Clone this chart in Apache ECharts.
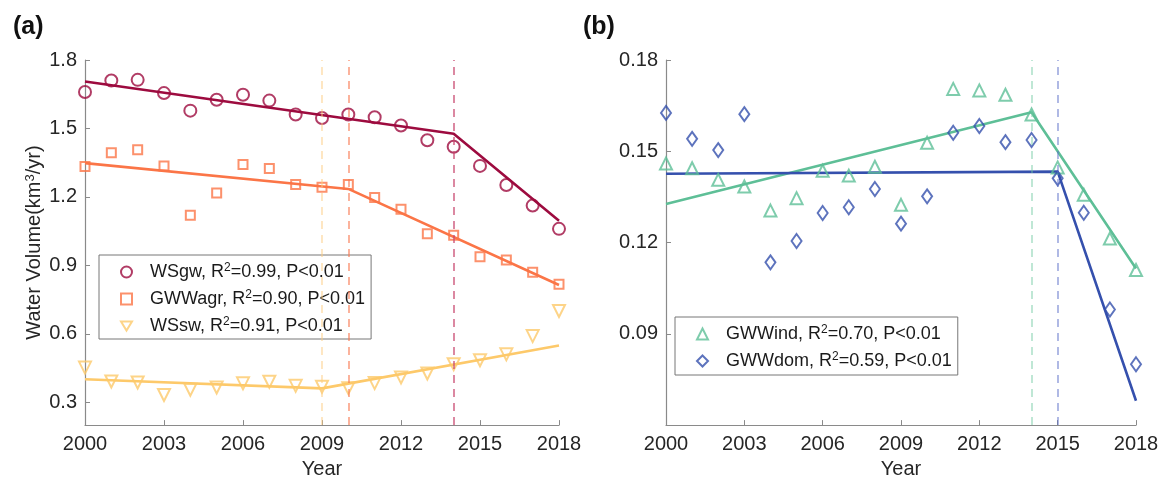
<!DOCTYPE html>
<html>
<head>
<meta charset="utf-8">
<script src="https://cdn.jsdelivr.net/npm/echarts@6/dist/echarts.min.js"></script>
<style>
  html, body { margin: 0; padding: 0; background: #fff; }
  #main { width: 1167px; height: 484px; }
</style>
</head>
<body>
<div id="main"></div>
<script>
// Years on both panels
const years = [2000, 2001, 2002, 2003, 2004, 2005, 2006, 2007, 2008, 2009,
  2010, 2011, 2012, 2013, 2014, 2015, 2016, 2017, 2018];
const xTicks = [2000, 2003, 2006, 2009, 2012, 2015, 2018];

// Panel (a) observations
const wsgw = [1.66, 1.71, 1.713, 1.655, 1.578, 1.626, 1.648, 1.622, 1.561, 1.546,
  1.561, 1.549, 1.513, 1.448, 1.42, 1.336, 1.252, 1.162, 1.06];
const gwwagr = [1.333, 1.394, 1.407, 1.335, 1.12, 1.217, 1.342, 1.325, 1.254, 1.242,
  1.254, 1.197, 1.146, 1.039, 1.032, 0.938, 0.923, 0.87, 0.817];
const wssw = [0.452, 0.391, 0.387, 0.332, 0.355, 0.365, 0.383, 0.39, 0.372, 0.368,
  0.362, 0.384, 0.409, 0.426, 0.467, 0.484, 0.51, 0.59, 0.7];

// Panel (a) piecewise fits (knots)
const wsgwFitX = [2000, 2014, 2018];
const wsgwFitY = [1.706, 1.477, 1.095];
const agrFitX = [2000, 2010, 2018];
const agrFitY = [1.348, 1.235, 0.814];
const swFitX = [2000, 2009, 2018];
const swFitY = [0.401, 0.361, 0.549];
const yTicksA = [0.3, 0.6, 0.9, 1.2, 1.5, 1.8];

// Panel (b) observations
const gwwind = [0.146, 0.1444, 0.1406, 0.1384, 0.1305, 0.1346, 0.1436, 0.142, 0.1449, 0.1324,
  0.1528, 0.1705, 0.17, 0.1686, 0.1621, 0.1447, 0.1357, 0.1213, 0.111];
const gwwdom = [0.1626, 0.1541, 0.1504, 0.1622, 0.1135, 0.1205, 0.1297, 0.1316, 0.1376, 0.1262,
  0.1352, 0.1561, 0.1583, 0.153, 0.1537, 0.1411, 0.1298, 0.098, 0.08];

// Panel (b) piecewise fits (knots)
const indFitX = [2000, 2014, 2018];
const indFitY = [0.1327, 0.1628, 0.1115];
const domFitX = [2000, 2015, 2018];
const domFitY = [0.1426, 0.1433, 0.068];
const yTicksB = [0.09, 0.12, 0.15, 0.18];

const FONT = "'Liberation Sans', Arial, sans-serif";
const C = {
  gw: "#9d0b3f", agr: "#fb7547", sw: "#fdc96a",
  ind: "#5ebf97", dom: "#3550ad"
};
// superscript style for rich text
const SUP = { fontFamily: FONT, fontSize: 12, verticalAlign: "top", lineHeight: 12, color: "#1a1a1a" };
// downward triangle for the WSsw legend entry
const TRI_DOWN = "path://M0,0 L12,0 L6,10 Z";

function pairs(xs, ys) {
  return xs.map((x, i) => [x, ys[i]]);
}

function xAxisFor(idx) {
  return {
    type: "value", gridIndex: idx, min: 2000, max: 2018,
    name: "Year", nameLocation: "middle", nameGap: 33,
    nameTextStyle: { fontFamily: FONT, fontSize: 20, color: "#262626" },
    axisLine: { lineStyle: { color: "#8a8a8a", width: 1.2 } },
    axisTick: { inside: true, length: 5, customValues: xTicks, lineStyle: { color: "#8a8a8a" } },
    axisLabel: {
      customValues: xTicks, margin: 9, fontFamily: FONT, fontSize: 20, color: "#262626",
      formatter: (v) => String(v)
    },
    splitLine: { show: false }
  };
}

function yAxisFor(idx, min, max, ticks, digits) {
  return {
    type: "value", gridIndex: idx, min: min, max: max,
    axisLine: { show: true, lineStyle: { color: "#8a8a8a", width: 1.2 } },
    axisTick: { show: true, inside: true, length: 5, customValues: ticks, lineStyle: { color: "#8a8a8a" } },
    axisLabel: {
      customValues: ticks, margin: 8, fontFamily: FONT, fontSize: 20, color: "#262626",
      formatter: (v) => v.toFixed(digits)
    },
    splitLine: { show: false }
  };
}

function scatter(name, idx, data, color, symbol, size, rotate) {
  return {
    name: name, type: "scatter", xAxisIndex: idx, yAxisIndex: idx,
    data: pairs(years, data), symbol: symbol, symbolSize: size, symbolRotate: rotate || 0,
    itemStyle: { color: "rgba(255,255,255,0)", borderColor: color, borderWidth: 2 },
    z: 3
  };
}

function fit(idx, xs, ys, color, breakYear, dashColor) {
  return {
    type: "line", xAxisIndex: idx, yAxisIndex: idx,
    data: pairs(xs, ys), showSymbol: false, silent: true,
    lineStyle: { color: color, width: 2.6 },
    markLine: {
      silent: true, symbol: "none", label: { show: false },
      lineStyle: { color: dashColor, type: [8, 6], width: 1.6 },
      data: [{ xAxis: breakYear }]
    },
    z: 2
  };
}

function legendFor(items, left, top, padding) {
  return {
    data: items, orient: "vertical", left: left, top: top,
    padding: padding, itemGap: 7, itemWidth: 11, itemHeight: 11,
    borderColor: "#777", borderWidth: 1, backgroundColor: "#fff",
    itemStyle: { borderWidth: 2 },
    formatter: (n) => n.replace("R2", "R{sup|2}"),
    textStyle: {
      fontFamily: FONT, fontSize: 18, color: "#1a1a1a", lineHeight: 20,
      padding: [0, 0, 0, 13], rich: { sup: SUP }
    }
  };
}

const namesA = ["WSgw, R2=0.99, P<0.01", "GWWagr, R2=0.90, P<0.01", "WSsw, R2=0.91, P<0.01"];
const namesB = ["GWWind, R2=0.70, P<0.01", "GWWdom, R2=0.59, P<0.01"];

const myChart = echarts.init(document.getElementById("main"));

const option = {
  animation: false,
  title: [
    { text: "(a)", left: 8, top: 10, textStyle: { fontFamily: FONT, fontSize: 25, fontWeight: "bold", color: "#111" } },
    { text: "(b)", left: 578, top: 10, textStyle: { fontFamily: FONT, fontSize: 25, fontWeight: "bold", color: "#111" } }
  ],
  grid: [
    { left: 85, top: 60, width: 474, height: 367 },
    { left: 666, top: 60, width: 470, height: 367 }
  ],
  xAxis: [xAxisFor(0), xAxisFor(1)],
  yAxis: [
    Object.assign(yAxisFor(0, 0.2, 1.8, yTicksA, 1), {
      name: "Water Volume(km{sup|3}/yr)", nameLocation: "middle", nameGap: 41,
      nameTextStyle: {
        fontFamily: FONT, fontSize: 20, color: "#262626",
        rich: { sup: Object.assign({}, SUP, { fontSize: 13, color: "#262626" }) }
      }
    }),
    yAxisFor(1, 0.06, 0.18, yTicksB, 2)
  ],
  legend: [
    legendFor([namesA[0], namesA[1], { name: namesA[2], icon: TRI_DOWN }], 99, 255, [7, 6, 3, 21]),
    legendFor(namesB, 675, 317, [7, 6, 4, 21])
  ],
  series: [
    fit(0, wsgwFitX, wsgwFitY, C.gw, 2014, "rgba(200,70,110,0.8)"),
    fit(0, agrFitX, agrFitY, C.agr, 2010, "rgba(250,120,80,0.7)"),
    fit(0, swFitX, swFitY, C.sw, 2009, "rgba(253,205,130,0.6)"),
    scatter(namesA[0], 0, wsgw, C.gw, "circle", 12),
    scatter(namesA[1], 0, gwwagr, C.agr, "rect", 9),
    scatter(namesA[2], 0, wssw, C.sw, "triangle", 12, 180),
    fit(1, indFitX, indFitY, C.ind, 2014, "rgba(110,200,160,0.55)"),
    fit(1, domFitX, domFitY, C.dom, 2015, "rgba(90,110,200,0.6)"),
    scatter(namesB[0], 1, gwwind, C.ind, "triangle", 12),
    scatter(namesB[1], 1, gwwdom, C.dom, "diamond", [10, 14])
  ]
};

myChart.setOption(option);
window.onresize = function () {
  myChart.resize();
};
</script>
</body>
</html>
